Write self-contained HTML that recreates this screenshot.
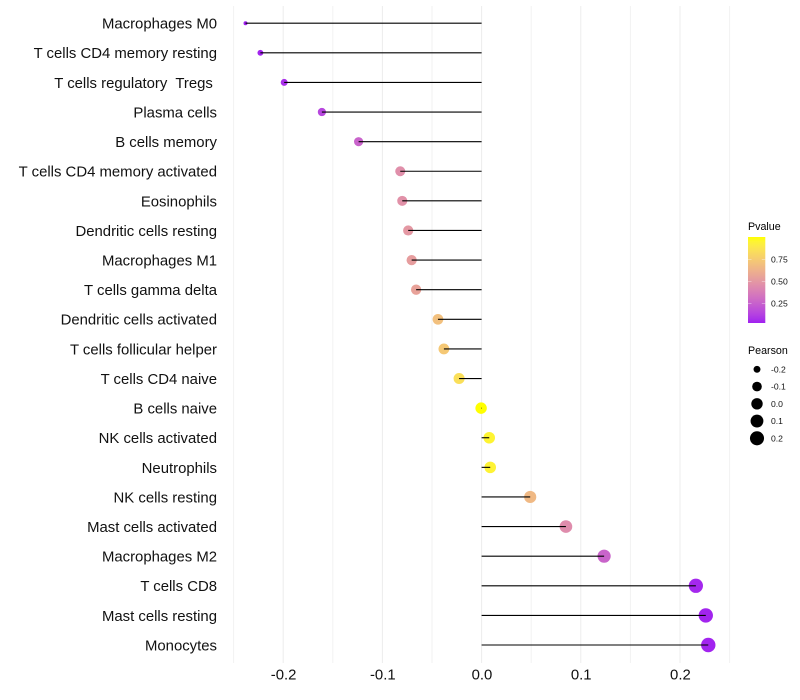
<!DOCTYPE html>
<html>
<head>
<meta charset="utf-8">
<title>Immune cell correlation lollipop chart</title>
<style>
html,body{margin:0;padding:0;background:#fff;width:800px;height:700px;overflow:hidden}
svg{display:block}
text{font-family:"Liberation Sans",sans-serif;white-space:pre}
</style>
</head>
<body>
<svg id="chart" width="800" height="700" viewBox="0 0 800 700" xmlns="http://www.w3.org/2000/svg">
  <defs>
    <linearGradient id="pvalue-gradient" x1="0" y1="1" x2="0" y2="0"></linearGradient>
  </defs>
  <g id="grid"></g>
  <g id="dots"></g>
  <g id="stems"></g>
  <g id="y-axis"></g>
  <g id="x-axis"></g>
  <g id="pvalue-legend"></g>
  <g id="pearson-legend"></g>
</svg>
<script>
var categories = ["Macrophages M0","T cells CD4 memory resting","T cells regulatory  Tregs ","Plasma cells","B cells memory","T cells CD4 memory activated","Eosinophils","Dendritic cells resting","Macrophages M1","T cells gamma delta","Dendritic cells activated","T cells follicular helper","T cells CD4 naive","B cells naive","NK cells activated","Neutrophils","NK cells resting","Mast cells activated","Macrophages M2","T cells CD8","Mast cells resting","Monocytes"];
var pearson = [-0.238,-0.223,-0.199,-0.161,-0.124,-0.082,-0.080,-0.074,-0.0705,-0.066,-0.044,-0.038,-0.0227,-0.0005,0.0077,0.0087,0.049,0.085,0.1235,0.216,0.226,0.2285];
var pvalues = [0.03,0.04,0.07,0.146,0.26,0.46,0.47,0.50,0.525,0.55,0.69,0.73,0.84,0.997,0.945,0.94,0.66,0.445,0.265,0.05,0.04,0.038];
var xMajorTicks = [-0.2,-0.1,0.0,0.1,0.2];
var xMinorTicks = [-0.25,-0.15,-0.05,0.05,0.15,0.25];
var xTickLabels = ["-0.2","-0.1","0.0","0.1","0.2"];
var pvalueTicks = [0.25,0.5,0.75];
var pvalueTickLabels = ["0.25","0.50","0.75"];
var pearsonBreaks = [-0.2,-0.1,0.0,0.1,0.2];
var pearsonBreakLabels = ["-0.2","-0.1","0.0","0.1","0.2"];

var SVGNS = "http://www.w3.org/2000/svg";
function make(tag, attrs, parent, content) {
  var el = document.createElementNS(SVGNS, tag);
  for (var k in attrs) { el.setAttribute(k, attrs[k]); }
  if (content !== undefined) { el.textContent = content; }
  parent.appendChild(el);
  return el;
}
function xScale(v) { return 481.6 + v * 992; }
function yScale(i) { return 23.2 + i * 29.61; }
function pvalueY(p) { return 281.5 - (p - 0.5) * 88; }
function sizeScale(v) {
  var lo = Math.min.apply(null, pearson), hi = Math.max.apply(null, pearson);
  var t = Math.max(0, (v - lo) / (hi - lo));
  return 2 + 5.2 * Math.sqrt(t);
}
function toLab(rgb) {
  var c = rgb.map(function (v) { v /= 255; return v > 0.04045 ? Math.pow((v + 0.055) / 1.055, 2.4) : v / 12.92; });
  var X = (0.4124 * c[0] + 0.3576 * c[1] + 0.1805 * c[2]) / 0.95047;
  var Y = 0.2126 * c[0] + 0.7152 * c[1] + 0.0722 * c[2];
  var Z = (0.0193 * c[0] + 0.1192 * c[1] + 0.9505 * c[2]) / 1.08883;
  var f = function (t) { return t > 0.008856 ? Math.cbrt(t) : 7.787 * t + 16 / 116; };
  return [116 * f(Y) - 16, 500 * (f(X) - f(Y)), 200 * (f(Y) - f(Z))];
}
function fromLab(l) {
  var y = (l[0] + 16) / 116, x = l[1] / 500 + y, z = y - l[2] / 200;
  var g = function (t) { return t * t * t > 0.008856 ? t * t * t : (t - 16 / 116) / 7.787; };
  var X = g(x) * 0.95047, Y = g(y), Z = g(z) * 1.08883;
  var r = [3.2406 * X - 1.5372 * Y - 0.4986 * Z, -0.9689 * X + 1.8758 * Y + 0.0415 * Z, 0.0557 * X - 0.204 * Y + 1.057 * Z];
  return "rgb(" + r.map(function (v) {
    v = v > 0.0031308 ? 1.055 * Math.pow(v, 1 / 2.4) - 0.055 : 12.92 * v;
    return Math.round(Math.min(1, Math.max(0, v)) * 255);
  }).join(",") + ")";
}
var labLow = toLab([160, 32, 240]), labHigh = toLab([255, 255, 0]);
function colorScale(p) {
  var t = (p - 0.03) / (0.997 - 0.03);
  t = Math.min(1, Math.max(0, t));
  return fromLab(labLow.map(function (v, i) { return v + (labHigh[i] - v) * t; }));
}

var grid = document.getElementById("grid");
xMinorTicks.forEach(function (v) {
  var el = make("line", {x1: xScale(v), x2: xScale(v), y1: 6, y2: 663, stroke: "#f2f2f2", "stroke-width": 1}, grid);
  
  
});
xMajorTicks.forEach(function (v) {
  var el = make("line", {x1: xScale(v), x2: xScale(v), y1: 6, y2: 663, stroke: "#ececec", "stroke-width": 1}, grid);
  
  
});

var dots = document.getElementById("dots");
var stems = document.getElementById("stems");
var yAxis = document.getElementById("y-axis");
categories.forEach(function (name, i) {
  var y = yScale(i), x = xScale(pearson[i]);
  var dot = make("circle", {cx: x, cy: y, r: sizeScale(pearson[i]), fill: colorScale(pvalues[i])}, dots);
  
  
  var stem = make("line", {x1: xScale(0), x2: x, y1: y, y2: y, stroke: "#000", "stroke-width": 1.1}, stems);
  
  
  var label = make("text", {x: 217, y: y + 5.4, "text-anchor": "end", "font-size": 14.9, fill: "#111"}, yAxis, name);
  
  
});

var xAxis = document.getElementById("x-axis");
xMajorTicks.forEach(function (v, i) {
  var label = make("text", {x: xScale(v) + 0.4, y: 679.3, "text-anchor": "middle", "font-size": 14.9, fill: "#111"}, xAxis, xTickLabels[i]);
  
  
});

var grad = document.getElementById("pvalue-gradient");
for (var s = 0; s <= 20; s++) {
  var stopEl = make("stop", {offset: (s * 5) + "%", "stop-color": colorScale(0.03 + (0.997 - 0.03) * s / 20)}, grad);
  
  
}
var pLegend = document.getElementById("pvalue-legend");
var pTitle = make("text", {x: 748, y: 230, "font-size": 10.7, fill: "#000"}, pLegend, "Pvalue");


var bar = make("rect", {x: 748, y: 237, width: 17.3, height: 86, fill: "url(#pvalue-gradient)"}, pLegend);


pvalueTicks.forEach(function (p, i) {
  var y = pvalueY(p);
  var t1 = make("line", {x1: 748, x2: 751.5, y1: y, y2: y, stroke: "#fff", "stroke-opacity": 0.6, "stroke-width": 0.6}, pLegend);
  
  
  var t2 = make("line", {x1: 761.8, x2: 765.3, y1: y, y2: y, stroke: "#fff", "stroke-opacity": 0.6, "stroke-width": 0.6}, pLegend);
  
  
  var label = make("text", {x: 771, y: y + 3, "font-size": 8.6, fill: "#111"}, pLegend, pvalueTickLabels[i]);
  
  
});

var sLegend = document.getElementById("pearson-legend");
var sTitle = make("text", {x: 748, y: 354, "font-size": 10.7, fill: "#000"}, sLegend, "Pearson");


pearsonBreaks.forEach(function (v, i) {
  var y = 369.3 + i * 17.25;
  var key = make("circle", {cx: 757, cy: y, r: sizeScale(v), fill: "#000"}, sLegend);
  
  
  var label = make("text", {x: 771, y: y + 3, "font-size": 8.6, fill: "#111"}, sLegend, pearsonBreakLabels[i]);
  
  
});
</script>
</body>
</html>
